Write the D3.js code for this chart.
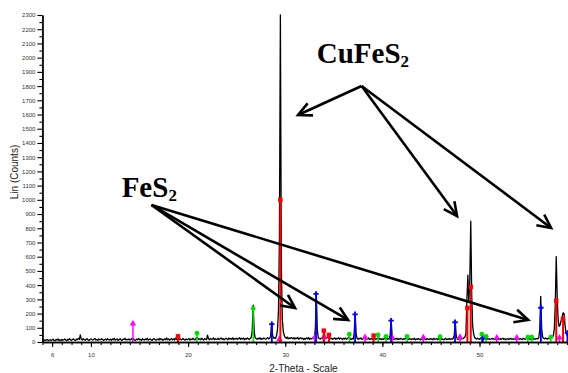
<!DOCTYPE html>
<html>
<head>
<meta charset="utf-8">
<script src="https://cdn.jsdelivr.net/npm/d3@7/dist/d3.min.js"></script>
<style>
  html, body { margin: 0; padding: 0; background: #fff; }
  svg { display: block; }
</style>
</head>
<body>
<div id="chart"></div>
<script>
// XRD scan, constant step (2-theta from 5.0, step 0.1), counts
const scanStart = 5.0;
const scanStep = 0.1;
const scanCounts = [
  12, 8, 15, 10, 14, 18, 9, 13, 16, 11,        // 5
  14, 20, 12, 9, 17, 13, 22, 11, 15, 10,       // 6
  18, 12, 16, 21, 13, 10, 19, 14, 24, 15,      // 7
  12, 17, 22, 14, 11, 20, 16, 25, 18, 50,      // 8
  20, 14, 24, 17, 12, 19, 23, 15, 11, 18,      // 9
  22, 16, 13, 20, 25, 14, 18, 12, 21, 17,      // 10
  15, 23, 18, 11, 16, 20, 13, 24, 17, 14,      // 11
  19, 12, 22, 16, 25, 13, 18, 21, 11, 17,      // 12
  23, 15, 12, 20, 17, 26, 14, 19, 16, 22,      // 13
  13, 18, 24, 16, 21, 14, 11, 20, 17, 25,      // 14
  15, 19, 12, 23, 17, 14, 21, 16, 26, 13,      // 15
  18, 22, 15, 11, 20, 24, 16, 13, 19, 21,      // 16
  14, 25, 17, 20, 12, 18, 23, 15, 28, 16,      // 17
  21, 13, 19, 24, 16, 22, 14, 27, 18, 23,      // 18
  26, 17, 22, 15, 20, 25, 18, 13, 21, 16,      // 19
  19, 24, 14, 21, 17, 26, 20, 15, 23, 32,      // 20
  25, 18, 22, 16, 27, 19, 14, 24, 20, 17,      // 21
  48, 22, 15, 25, 19, 21, 28, 16, 23, 18,      // 22
  20, 26, 17, 23, 29, 18, 24, 15, 21, 27,      // 23
  22, 16, 28, 20, 25, 19, 30, 17, 24, 21,      // 24
  27, 19, 23, 30, 18, 26, 21, 29, 16, 24,      // 25
  20, 28, 22, 17, 25, 32, 80, 260, 75, 30,     // 26
  24, 19, 27, 22, 30, 18, 25, 21, 28, 23,      // 27
  19, 26, 31, 22, 27, 42, 140, 48, 26, 30,     // 28
  25, 45, 85, 210, 720, 2300, 520, 160, 75, 45, // 29
  32, 26, 35, 22, 29, 24, 31, 27, 23, 30,      // 30
  21, 28, 24, 32, 19, 26, 30, 22, 27, 18,      // 31
  25, 20, 29, 23, 31, 18, 26, 22, 28, 24,      // 32
  30, 92, 350, 85, 32, 25, 21, 28, 24, 40,     // 33
  75, 35, 24, 30, 38, 45, 28, 22, 27, 19,      // 34
  24, 29, 18, 26, 22, 31, 20, 27, 23, 17,      // 35
  26, 21, 28, 19, 24, 30, 35, 22, 18, 25,      // 36
  20, 62, 205, 58, 24, 19, 27, 22, 29, 18,     // 37
  23, 30, 26, 19, 25, 21, 28, 17, 24, 22,      // 38
  19, 30, 24, 18, 22, 26, 32, 20, 25, 17,      // 39
  22, 18, 27, 21, 30, 19, 24, 20, 48, 160,     // 40
  50, 22, 18, 25, 20, 27, 16, 23, 19, 26,      // 41
  21, 17, 24, 19, 28, 30, 22, 18, 25, 20,      // 42
  17, 23, 19, 26, 15, 22, 18, 24, 20, 16,      // 43
  23, 19, 27, 18, 22, 16, 25, 20, 17, 24,      // 44
  19, 22, 16, 26, 18, 21, 24, 17, 23, 20,      // 45
  25, 18, 22, 15, 20, 27, 17, 21, 19, 24,      // 46
  18, 23, 20, 26, 48, 150, 45, 22, 19, 28,     // 47
  24, 20, 26, 22, 30, 35, 60, 290, 470, 280,   // 48
  430, 850, 320, 110, 55, 32, 25, 20, 27, 22,  // 49
  19, 25, 30, 21, 18, 26, 22, 17, 24, 20,      // 50
  23, 18, 21, 26, 19, 24, 17, 22, 25, 18,      // 51
  20, 24, 18, 22, 27, 19, 23, 16, 21, 25,      // 52
  17, 22, 26, 19, 23, 18, 25, 20, 16, 24,      // 53
  21, 18, 24, 20, 17, 25, 22, 19, 23, 28,      // 54
  26, 20, 24, 18, 22, 27, 19, 23, 21, 25,      // 55
  22, 28, 85, 320, 95, 35, 26, 22, 28, 24,     // 56
  20, 27, 23, 30, 28, 32, 45, 90, 260, 600,    // 57
  310, 150, 110, 120, 150, 175, 205, 200, 120, 70, // 58
  50, 45                                       // 59
];

// reference patterns (stick positions and heights)
const greenTheta  = [20.92, 26.7, 36.6, 39.56, 40.38, 42.54, 45.94, 50.24, 50.68, 54.97, 55.38, 57.34];
const greenCounts = [62, 235, 55, 50, 40, 40, 38, 55, 40, 35, 35, 35];
const redTheta    = [18.96, 29.5, 33.97, 34.5, 39.1, 48.75, 49.1, 57.9, 58.6];
const redCounts   = [40, 1000, 80, 50, 45, 240, 388, 290, 162];
const blueTheta   = [28.62, 33.17, 37.19, 40.9, 47.48, 50.32, 56.32, 59.05];
const blueCounts  = [125, 338, 195, 150, 139, 25, 241, 63];
const pinkTheta   = [14.32, 29.4, 33.04, 34.0, 38.22, 41.0, 44.22, 47.99, 51.78, 53.84, 58.23];
const pinkCounts  = [130, 20, 32, 32, 33, 33, 32, 35, 30, 30, 30];

// axis ticks
const xTickLabels = [6, 10, 20, 30, 40, 50];
const xMinorTicks = d3.range(5, 60, 1);
const yTickLabels = d3.range(0, 2301, 100);
const yMinorTicks = d3.range(50, 2300, 100);

// annotations (in data units)
const annotNames   = ["CuFeS", "FeS"];
const annotText    = [[33.25, 1962], [13.16, 1018]];
const annotOrigins = [[37.86, 1801], [16.23, 964]];
const annotTargets = [
  [[31.32, 1597], [47.69, 886], [57.37, 802]],
  [[31.01, 239], [36.47, 155], [55.01, 155]]
];

const width = 568, height = 373;

const svg = d3.select('#chart')
  .append('svg')
  .attr('width', width)
  .attr('height', height)
  .attr('viewBox', '0 0 ' + width + ' ' + height);

const x = d3.scaleLinear().domain([5, 59.1]).range([42.4, 567.9]);
const y = d3.scaleLinear().domain([0, 2300]).range([342, 15]);

const scan = scanCounts.map(function (c, i) {
  return [scanStart + i * scanStep, c];
});

// measured trace
svg.append('path')
  .datum(scan)
  .attr('fill', 'none')
  .attr('stroke', '#000')
  .attr('stroke-width', 1.3)
  .attr('stroke-linejoin', 'round')
  .attr('d', d3.line()
    .x(function (d) { return x(d[0]); })
    .y(function (d) { return y(d[1]); }));

// stick patterns
const phases = [
  { theta: greenTheta, counts: greenCounts, color: '#00e000', sym: d3.symbolCircle, size: 18, w: 1.5 },
  { theta: pinkTheta, counts: pinkCounts, color: '#ff00ff', sym: d3.symbolTriangle, size: 18, w: 1.5 },
  { theta: blueTheta, counts: blueCounts, color: '#0000ff', sym: d3.symbolCross, size: 16, w: 1.8 },
  { theta: redTheta, counts: redCounts, color: '#ff0000', sym: d3.symbolSquare, size: 20, w: 2 }
];

phases.forEach(function (p) {
  const g = svg.append('g');
  const pts = p.theta.map(function (t, i) { return [t, p.counts[i]]; });
  g.selectAll('line')
    .data(pts)
    .enter()
    .append('line')
    .attr('x1', function (d) { return x(d[0]); })
    .attr('x2', function (d) { return x(d[0]); })
    .attr('y1', y(0))
    .attr('y2', function (d) { return y(d[1]); })
    .attr('stroke', p.color)
    .attr('stroke-width', p.w);
  g.selectAll('path')
    .data(pts)
    .enter()
    .append('path')
    .attr('transform', function (d) { return 'translate(' + x(d[0]) + ',' + y(d[1]) + ')'; })
    .attr('d', d3.symbol().type(p.sym).size(p.size))
    .attr('fill', p.color);
});

// axes
const axisFont = 'Liberation Sans, Arial, sans-serif';

svg.append('g')
  .attr('transform', 'translate(' + x(5) + ',0)')
  .call(d3.axisLeft(y).tickValues(yTickLabels).tickSize(5).tickSizeOuter(0).tickPadding(2)
    .tickFormat(d3.format('d')));
svg.append('g')
  .attr('transform', 'translate(' + x(5) + ',0)')
  .call(d3.axisLeft(y).tickValues(yMinorTicks).tickSize(3).tickSizeOuter(0).tickFormat(''));

svg.append('g')
  .attr('transform', 'translate(0,' + y(0) + ')')
  .call(d3.axisBottom(x).tickValues(xTickLabels).tickSize(5).tickSizeOuter(0).tickPadding(6)
    .tickFormat(d3.format('d')));
svg.append('g')
  .attr('transform', 'translate(0,' + y(0) + ')')
  .call(d3.axisBottom(x).tickValues(xMinorTicks).tickSize(3).tickSizeOuter(0).tickFormat(''));

svg.selectAll('.domain').attr('stroke', '#000').attr('stroke-width', 1.4);
svg.selectAll('.tick line').attr('stroke', '#000').attr('stroke-width', 1.1);
svg.selectAll('.tick text')
  .attr('font-family', axisFont)
  .attr('font-size', 6)
  .attr('fill', '#333');

// axis titles
svg.append('text')
  .attr('x', 303.5)
  .attr('y', 372)
  .attr('text-anchor', 'middle')
  .attr('font-family', axisFont)
  .attr('font-size', 10)
  .attr('fill', '#222')
  .text('2-Theta - Scale');

svg.append('text')
  .attr('transform', 'translate(18,172) rotate(-90)')
  .attr('text-anchor', 'middle')
  .attr('font-family', axisFont)
  .attr('font-size', 10)
  .attr('fill', '#222')
  .text('Lin (Counts)');

// phase labels with arrows
const headLen = 15, headAngle = 26 * Math.PI / 180;

annotNames.forEach(function (name, k) {
  const t = svg.append('text')
    .attr('x', x(annotText[k][0]))
    .attr('y', y(annotText[k][1]))
    .attr('font-family', 'Liberation Serif, Times New Roman, serif')
    .attr('font-weight', 'bold')
    .attr('font-size', 29)
    .attr('fill', '#000');
  t.append('tspan').text(name);
  t.append('tspan').attr('font-size', 17).attr('dy', 4).text('2');

  const ox = x(annotOrigins[k][0]), oy = y(annotOrigins[k][1]);
  annotTargets[k].forEach(function (tg) {
    const tx = x(tg[0]), ty = y(tg[1]);
    const a = Math.atan2(oy - ty, ox - tx);
    svg.append('line')
      .attr('x1', ox).attr('y1', oy)
      .attr('x2', tx).attr('y2', ty)
      .attr('stroke', '#000')
      .attr('stroke-width', 2.6);
    svg.append('path')
      .attr('d', 'M' + (tx + headLen * Math.cos(a + headAngle)) + ',' + (ty + headLen * Math.sin(a + headAngle)) +
        'L' + tx + ',' + ty +
        'L' + (tx + headLen * Math.cos(a - headAngle)) + ',' + (ty + headLen * Math.sin(a - headAngle)))
      .attr('fill', 'none')
      .attr('stroke', '#000')
      .attr('stroke-width', 2.6)
      .attr('stroke-linejoin', 'miter');
  });
});
</script>
</body>
</html>
